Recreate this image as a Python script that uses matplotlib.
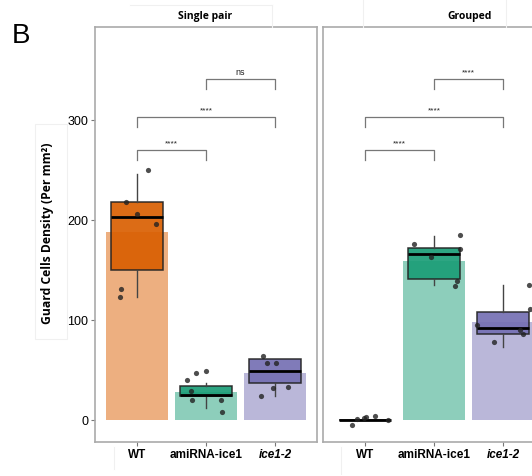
import matplotlib
matplotlib.use("Agg")
import matplotlib.pyplot as plt
from matplotlib.lines import Line2D
from matplotlib.patches import Rectangle

# genotypes and facets
groups = ["WT", "amiRNA-ice1", "ice1-2"]
panels = ["Single pair", "Grouped"]

# mean values (bars)
means_single = [188, 28, 47]
means_grouped = [0, 159, 98]

# box stats: whislo, q1, med, q3, whishi
box_single = [[123, 150, 203, 218, 246],
              [12, 24, 25, 33.5, 36.5],
              [24, 36.5, 49, 61, 61]]
box_grouped = [[0, 0, 0, 0, 0],
               [135, 141, 166, 172, 184],
               [73, 85.5, 92, 107.5, 135]]

# individual measurements
pts_single = [[250, 218, 206, 196, 131, 123],
              [40, 47, 49, 29, 20, 20, 8],
              [64, 57, 57, 32, 33, 24]]
pts_grouped = [[-5, 1, 2, 3, 4, 0],
               [176, 185, 171, 163, 139, 134],
               [135, 111, 95, 90, 86, 78]]
# horizontal jitter of the points
jit_single = [[0.16, -0.15, 0.01, 0.28, -0.23, -0.24],
              [-0.28, -0.15, 0.0, -0.22, -0.2, 0.22, 0.23],
              [-0.18, -0.12, 0.01, -0.03, 0.19, -0.2]]
jit_grouped = [[-0.18, -0.12, -0.02, 0.01, 0.15, 0.33],
               [-0.29, 0.37, 0.37, -0.04, 0.33, 0.30],
               [0.37, 0.39, -0.38, 0.24, 0.28, -0.14]]

# pairwise tests: (group a, group b, label, height)
tests_single = [(0, 1, "****", 270), (0, 2, "****", 303), (1, 2, "ns", 341)]
tests_grouped = [(0, 1, "****", 270), (0, 2, "****", 303), (1, 2, "****", 341)]

dark = ["#D95F02", "#1B9E77", "#7570B3"]
light = ["#EDAF80", "#8DCEBB", "#BAB7D9"]

fig = plt.figure(figsize=(5.32, 4.77), dpi=100)
ax1 = fig.add_axes([0.1788, 0.0713, 0.4164, 0.870])
ax2 = fig.add_axes([0.6079, 0.0713, 0.4164, 0.870])


def draw_panel(ax, means, boxes, pts, jit, tests):
    x = [1, 2, 3]
    ax.bar(x, means, width=0.9, color=light, zorder=1)
    stats = []
    for b in boxes:
        stats.append(dict(whislo=b[0], q1=b[1], med=b[2], q3=b[3], whishi=b[4], fliers=[]))
    bp = ax.bxp(stats, positions=x, widths=0.75, patch_artist=True, showcaps=False,
                boxprops=dict(edgecolor="#222222", linewidth=1.1),
                medianprops=dict(color="black", linewidth=2.0),
                whiskerprops=dict(color="#444444", linewidth=1.0),
                manage_ticks=False, zorder=2)
    for patch, c in zip(bp["boxes"], dark):
        patch.set_facecolor(c)
        patch.set_alpha(0.92)
    for i in range(3):
        xs = [x[i] + j for j in jit[i]]
        ax.scatter(xs, pts[i], s=14, color="#222222", alpha=0.8, linewidths=0, zorder=3)
    for a, b, lab, h in tests:
        ax.plot([x[a], x[a], x[b], x[b]], [h - 10, h, h, h - 10],
                color="#777777", linewidth=0.9, zorder=3)
        ax.text((x[a] + x[b]) / 2, h + 3, lab, ha="center", va="bottom",
                fontsize=6.5 if lab == "ns" else 6, color="#222222",
                family="Liberation Sans")
    ax.set_xlim(0.4, 3.6)
    ax.set_ylim(-22.3, 392.7)
    ax.set_xticks(x)
    ax.set_xticklabels([])
    for s in ax.spines.values():
        s.set_color("#AAAAAA")
        s.set_linewidth(1.2)
    ax.tick_params(axis="x", length=3, color="#777777")


draw_panel(ax1, means_single, box_single, pts_single, jit_single, tests_single)
draw_panel(ax2, means_grouped, box_grouped, pts_grouped, jit_grouped, tests_grouped)

ax1.set_yticks([0, 100, 200, 300])
ax1.set_yticklabels(["0", "100", "200", "300"], fontsize=9, family="Liberation Sans")
ax1.tick_params(axis="y", length=3, color="#777777", pad=2)
ax2.set_yticks([])

# x labels below each panel
for ax in (ax1, ax2):
    for i, g in enumerate(groups):
        style = "italic" if g == "ice1-2" else "normal"
        ax.text(i + 1, -34, g, ha="center", va="center", fontsize=8.5,
                fontweight="bold", style=style, family="Liberation Sans")

# facet titles
fig.text(205 / 532, 1 - 17 / 477, panels[0], ha="center", va="center",
         fontsize=7.5, fontweight="bold", family="Open Sans")
fig.text(470 / 532, 1 - 17 / 477, panels[1], ha="center", va="center",
         fontsize=7.5, fontweight="bold", family="Open Sans")

# faint frames around the pasted labels
frame = "#F0F0F0"
fig.add_artist(Line2D([130 / 532, 272 / 532], [1 - 6 / 477, 1 - 6 / 477], color=frame, lw=0.8))
fig.add_artist(Line2D([272 / 532, 272 / 532], [1 - 6 / 477, 1 - 28 / 477], color=frame, lw=0.8))
fig.add_artist(Line2D([363 / 532, 363 / 532], [1, 1 - 28 / 477], color=frame, lw=0.8))
fig.add_artist(Line2D([506 / 532, 506 / 532], [1, 1 - 28 / 477], color=frame, lw=0.8))
fig.add_artist(Rectangle((35 / 532, 1 - 340 / 477), 32 / 532, 215 / 477,
                         transform=fig.transFigure, fill=False, edgecolor=frame, lw=0.8))
fig.add_artist(Line2D([114 / 532, 114 / 532], [1 - 448 / 477, 1 - 470 / 477], color=frame, lw=0.8))
fig.add_artist(Line2D([341 / 532, 341 / 532], [1 - 448 / 477, 1 - 475 / 477], color=frame, lw=0.8))

fig.text(48 / 532, 1 - 233 / 477, "Guard Cells Density (Per mm²)", rotation=90,
         ha="center", va="center", fontsize=8.7, fontweight="bold", family="Open Sans")

fig.text(12 / 532, 1 - 36 / 477, "B", ha="left", va="center", fontsize=20,
         family="Liberation Sans")

fig.savefig("out.png", dpi=100)
